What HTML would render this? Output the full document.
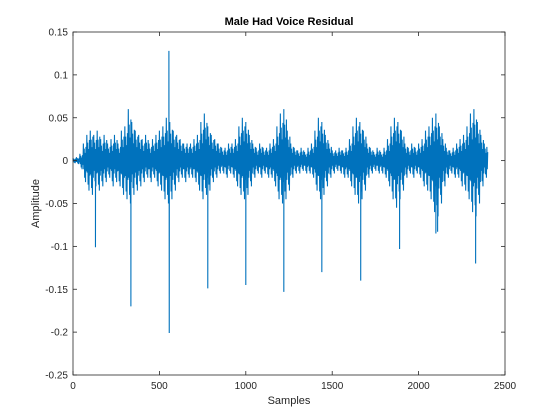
<!DOCTYPE html>
<html><head><meta charset="utf-8"><style>
body{margin:0;background:#fff;}
svg{display:block;font-family:"Liberation Sans",Arial,sans-serif;}
</style></head><body>
<svg id="chart" width="560" height="420" viewBox="0 0 560 420">
<rect width="560" height="420" fill="#fff"/>
<g id="plot"></g>
<g id="axes"></g>
</svg>
<script>
const xTicks=[0,500,1000,1500,2000,2500];
const yTicks=[-0.25,-0.2,-0.15,-0.1,-0.05,0,0.05,0.1,0.15];
const yTickLabels=["-0.25","-0.2","-0.15","-0.1","-0.05","0","0.05","0.1","0.15"];
const binStep=20;
const upperEnv=[0.003,0.004,0.008,0.02,0.03,0.035,0.03,0.035,0.025,0.03,0.02,0.025,0.03,0.02,0.035,0.04,0.06,0.045,0.035,0.03,0.025,0.03,0.02,0.025,0.03,0.035,0.04,0.05,0.045,0.035,0.03,0.025,0.02,0.02,0.02,0.025,0.03,0.045,0.055,0.04,0.03,0.025,0.02,0.015,0.015,0.02,0.02,0.025,0.04,0.05,0.045,0.03,0.02,0.015,0.02,0.015,0.015,0.02,0.025,0.04,0.055,0.06,0.035,0.02,0.015,0.012,0.015,0.01,0.015,0.02,0.035,0.05,0.045,0.03,0.02,0.012,0.012,0.015,0.012,0.015,0.025,0.04,0.05,0.045,0.035,0.02,0.015,0.01,0.015,0.01,0.015,0.025,0.04,0.05,0.045,0.035,0.02,0.015,0.02,0.015,0.02,0.025,0.035,0.04,0.05,0.055,0.04,0.025,0.015,0.012,0.015,0.02,0.025,0.03,0.04,0.055,0.06,0.045,0.03,0.02,0.01];
const lowerEnv=[-0.003,-0.004,-0.01,-0.025,-0.035,-0.04,-0.03,-0.035,-0.03,-0.025,-0.02,-0.03,-0.025,-0.03,-0.04,-0.045,-0.05,-0.04,-0.035,-0.03,-0.025,-0.02,-0.025,-0.02,-0.03,-0.035,-0.045,-0.05,-0.045,-0.035,-0.025,-0.02,-0.025,-0.02,-0.02,-0.025,-0.035,-0.045,-0.04,-0.035,-0.025,-0.02,-0.015,-0.015,-0.02,-0.015,-0.02,-0.03,-0.04,-0.045,-0.04,-0.03,-0.02,-0.015,-0.02,-0.015,-0.02,-0.02,-0.03,-0.045,-0.05,-0.045,-0.035,-0.02,-0.015,-0.015,-0.012,-0.015,-0.015,-0.02,-0.035,-0.045,-0.04,-0.03,-0.02,-0.015,-0.012,-0.015,-0.02,-0.02,-0.03,-0.04,-0.05,-0.045,-0.035,-0.02,-0.015,-0.012,-0.015,-0.015,-0.02,-0.03,-0.045,-0.055,-0.045,-0.035,-0.02,-0.015,-0.02,-0.015,-0.02,-0.03,-0.035,-0.045,-0.06,-0.065,-0.05,-0.03,-0.02,-0.015,-0.02,-0.02,-0.03,-0.035,-0.045,-0.06,-0.065,-0.05,-0.03,-0.02,-0.01];
const spikeSamples=[130,335,555,557,780,1000,1220,1440,1665,1890,2100,2110,2330];
const spikeValues=[-0.101,-0.17,0.128,-0.201,-0.149,-0.145,-0.153,-0.13,-0.14,-0.103,-0.085,-0.083,-0.12];

const L=73,R=505,T=32,B=375;
const xs=v=>L+v/2500*(R-L);
const ys=v=>T+(0.15-v)/0.4*(B-T);
const NS="http://www.w3.org/2000/svg";
function mk(tag,attrs,parent){const e=document.createElementNS(NS,tag);for(const k in attrs)e.setAttribute(k,attrs[k]);parent.appendChild(e);return e;}

let pts=[];
for(let i=0;i<upperEnv.length;i++){
  const s=i*binStep;
  pts.push([s,upperEnv[i]]);
  pts.push([s+2.5,lowerEnv[i]*0.4]);
  pts.push([s+5,upperEnv[i]*0.7]);
  pts.push([s+7.5,lowerEnv[i]*0.8]);
  pts.push([s+10,upperEnv[i]*0.45]);
  pts.push([s+12.5,lowerEnv[i]]);
  pts.push([s+15,upperEnv[i]*0.8]);
  pts.push([s+17.5,lowerEnv[i]*0.5]);
}
pts=pts.filter(p=>p[0]<=2400);
for(let k=0;k<spikeSamples.length;k++){pts.push([spikeSamples[k]-0.5,0]);pts.push([spikeSamples[k],spikeValues[k]]);pts.push([spikeSamples[k]+0.5,0]);}
pts.sort((a,b)=>a[0]-b[0]);
const plot=document.getElementById('plot');
const line=mk('polyline',{points:pts.map(p=>xs(p[0]).toFixed(2)+','+ys(p[1]).toFixed(2)).join(' '),fill:'none',stroke:'#0072BD','stroke-width':'1.1','stroke-linejoin':'miter'},plot);



const ax=document.getElementById('axes');
const box=mk('rect',{x:L,y:T,width:R-L,height:B-T,fill:'none',stroke:'#262626','stroke-width':'0.8'},ax);


xTicks.forEach(v=>{
  const x=xs(v);
  mk('line',{x1:x,y1:B,x2:x,y2:B-4,stroke:'#262626','stroke-width':'0.8'},ax);
  mk('line',{x1:x,y1:T,x2:x,y2:T+4,stroke:'#262626','stroke-width':'0.8'},ax);
  const t=mk('text',{x:x,y:B+14,'text-anchor':'middle','font-size':'10',fill:'#262626'},ax);
  t.textContent=v;
  
  
});
yTicks.forEach((v,i)=>{
  const y=ys(v);
  mk('line',{x1:L,y1:y,x2:L+4,y2:y,stroke:'#262626','stroke-width':'0.8'},ax);
  mk('line',{x1:R,y1:y,x2:R-4,y2:y,stroke:'#262626','stroke-width':'0.8'},ax);
  const t=mk('text',{x:L-5,y:y+3.5,'text-anchor':'end','font-size':'10',fill:'#262626'},ax);
  t.textContent=yTickLabels[i];
  
  
});
const title=mk('text',{x:289,y:25,'text-anchor':'middle','font-size':'11','font-weight':'bold',fill:'#000'},ax);
title.textContent='Male Had Voice Residual';


const xl=mk('text',{x:289,y:404,'text-anchor':'middle','font-size':'11',fill:'#262626'},ax);
xl.textContent='Samples';


const yl=mk('text',{x:0,y:0,'text-anchor':'middle','font-size':'11',fill:'#262626',transform:'translate(39,'+((T+B)/2)+') rotate(-90)'},ax);
yl.textContent='Amplitude';


</script>
</body></html>
